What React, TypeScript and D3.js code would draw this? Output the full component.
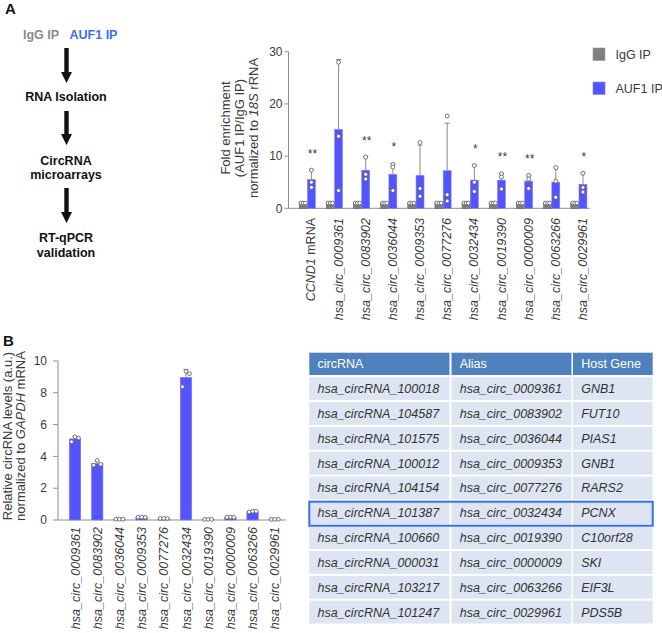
import React from 'react';
import * as d3 from 'd3';

const FONT = "'Liberation Sans', Arial, Helvetica, sans-serif";

// ---------- Panel A data ----------
const catsA = [
  'CCND1 mRNA', 'hsa_circ_0009361', 'hsa_circ_0083902', 'hsa_circ_0036044',
  'hsa_circ_0009353', 'hsa_circ_0077276', 'hsa_circ_0032434', 'hsa_circ_0019390',
  'hsa_circ_0000009', 'hsa_circ_0063266', 'hsa_circ_0029961',
];
const iggMeanA = [1, 1, 1, 1, 1, 1, 1, 1, 1, 1, 1];
const iggPointsA = [1, 1, 1];
const aufMeanA = [5.5, 15.1, 7.3, 6.5, 6.3, 7.2, 5.4, 5.4, 5.2, 5.0, 4.6];
const aufErrA = [1.9, 13.4, 2.6, 2.1, 5.8, 9.1, 2.9, 1.3, 1.1, 2.8, 2.2];
const aufPointsA = [
  [7.3, 5.0, 4.0], [28.0, 13.8, 3.4], [9.8, 6.5, 5.6], [8.4, 7.9, 3.4],
  [12.6, 3.8, 2.3], [17.7, 2.6, 1.4], [8.2, 5.0, 3.2], [6.6, 6.0, 3.7],
  [6.3, 5.6, 3.8], [7.8, 5.2, 2.1], [6.7, 4.0, 3.1],
];
const starsA = ['**', '', '**', '*', '', '', '*', '**', '**', '', '*'];
const ticksA = [0, 10, 20, 30];
const seriesA = ['IgG IP', 'AUF1 IP'];

// ---------- Panel B data ----------
const catsB = [
  'hsa_circ_0009361', 'hsa_circ_0083902', 'hsa_circ_0036044', 'hsa_circ_0009353',
  'hsa_circ_0077276', 'hsa_circ_0032434', 'hsa_circ_0019390', 'hsa_circ_0000009',
  'hsa_circ_0063266', 'hsa_circ_0029961',
];
const meanB = [5.1, 3.55, 0.05, 0.17, 0.1, 8.97, 0.04, 0.17, 0.52, 0.04];
const errB = [0.15, 0.15, 0.02, 0.03, 0.02, 0.5, 0.01, 0.03, 0.05, 0.01];
const pointsB = [
  [4.92, 5.24, 5.15], [3.45, 3.75, 3.5], [0.05, 0.05, 0.05], [0.17, 0.18, 0.17],
  [0.1, 0.1, 0.1], [8.38, 9.35, 9.2], [0.04, 0.04, 0.04], [0.17, 0.18, 0.17],
  [0.5, 0.55, 0.55], [0.04, 0.04, 0.04],
];
const ticksB = [0, 2, 4, 6, 8, 10];

// ---------- Table data ----------
const tableHeader = ['circRNA', 'Alias', 'Host Gene'];
const tableCircRNA = [
  'hsa_circRNA_100018', 'hsa_circRNA_104587', 'hsa_circRNA_101575', 'hsa_circRNA_100012',
  'hsa_circRNA_104154', 'hsa_circRNA_101387', 'hsa_circRNA_100660', 'hsa_circRNA_000031',
  'hsa_circRNA_103217', 'hsa_circRNA_101247',
];
const tableAlias = [
  'hsa_circ_0009361', 'hsa_circ_0083902', 'hsa_circ_0036044', 'hsa_circ_0009353',
  'hsa_circ_0077276', 'hsa_circ_0032434', 'hsa_circ_0019390', 'hsa_circ_0000009',
  'hsa_circ_0063266', 'hsa_circ_0029961',
];
const tableHost = ['GNB1', 'FUT10', 'PIAS1', 'GNB1', 'RARS2', 'PCNX', 'C10orf28', 'SKI', 'EIF3L', 'PDS5B'];
const highlightRow = 5;

// ---------- Flowchart ----------
const flowSteps = [['RNA Isolation'], ['CircRNA', 'microarrays'], ['RT-qPCR', 'validation']];

const BLUE = '#5454fb';
const BLUE_EDGE = '#8080ff';
const GRAY = '#7f7f7f';
const AXIS = '#8f8f8f';
const TXT = '#3a3a3a';

function Arrow({ x, y0, y1 }: { x: number; y0: number; y1: number }) {
  const hw = 5.5, hh = 11, sw = 2.2;
  const d = `M${x - sw},${y0} L${x + sw},${y0} L${x + sw},${y1 - hh} L${x + hw},${y1 - hh} L${x},${y1} L${x - hw},${y1 - hh} L${x - sw},${y1 - hh} Z`;
  return <path d={d} fill="#111" />;
}

function PanelA() {
  const y = d3.scaleLinear().domain([0, 30]).range([208.3, 51.7]);
  const x = d3.scalePoint<string>().domain(catsA).range([293.9, 592.6]).padding(0.5);
  const inner = d3.scaleBand<string>().domain(seriesA).range([-8.3, 7.9]).paddingInner(0.04);
  const axX = 288.5;
  const iggOff = [-2.2, 0, 2.2];
  return (
    <g>
      {/* y axis */}
      <line x1={axX} x2={axX} y1={y(30)} y2={y(0)} stroke={AXIS} strokeWidth={1} />
      {ticksA.map((t) => (
        <g key={t}>
          <line x1={axX - 4} x2={axX} y1={y(t)} y2={y(t)} stroke={AXIS} />
          <text x={axX - 6} y={y(t)} dy="0.35em" textAnchor="end" fontSize={12} fill={TXT}>{t}</text>
        </g>
      ))}
      <line x1={axX} x2={590} y1={y(0)} y2={y(0)} stroke={AXIS} />
      {/* y label */}
      {[
        <tspan key="a">Fold enrichment</tspan>,
        <tspan key="b">(AUF1 IP/IgG IP)</tspan>,
        <tspan key="c">normalized to <tspan fontStyle="italic">18S</tspan> rRNA</tspan>,
      ].map((t, i) => (
        <text key={i} transform={`translate(${229.5 + i * 14},128) rotate(-90)`} textAnchor="middle" fontSize={13} fill={TXT}>{t}</text>
      ))}
      {catsA.map((c, i) => {
        const cx = x(c)!;
        const xi = cx + inner('IgG IP')!;
        const xa = cx + inner('AUF1 IP')!;
        const bw = inner.bandwidth();
        const top = aufMeanA[i] + aufErrA[i];
        const capX = xa + bw / 2;
        return (
          <g key={c}>
            <rect x={xi} y={y(iggMeanA[i])} width={bw} height={y(0) - y(iggMeanA[i])} fill={GRAY} stroke="#5e5e5e" strokeWidth={0.6} />
            {iggPointsA.map((p, j) => (
              <circle key={j} cx={xi + bw / 2 + iggOff[j]} cy={y(p)} r={1.9} fill="#fff" stroke="#555" strokeWidth={0.8} />
            ))}
            <line x1={capX} x2={capX} y1={y(aufMeanA[i])} y2={y(top)} stroke="#8a8a8a" strokeWidth={1} />
            <line x1={capX - 2.5} x2={capX + 2.5} y1={y(top)} y2={y(top)} stroke="#8a8a8a" strokeWidth={1} />
            <rect x={xa} y={y(aufMeanA[i])} width={bw} height={y(0) - y(aufMeanA[i])} fill={BLUE} stroke={BLUE_EDGE} strokeWidth={0.6} />
            {aufPointsA[i].map((p, j) => (
              <circle key={j} cx={capX} cy={y(p)} r={2} fill="#fff" stroke="#555" strokeWidth={0.8} />
            ))}
            {starsA[i] && (
              <text x={capX + 1} y={y(Math.max(top, ...aufPointsA[i])) - 12} textAnchor="middle" fontSize={12} fill={TXT}>{starsA[i]}</text>
            )}
            <text transform={`translate(${cx + 8},218) rotate(-90)`} textAnchor="end" fontSize={12.5} fill={TXT}>
              {i === 0 ? (<><tspan fontStyle="italic">CCND1</tspan> mRNA</>) : (<tspan fontStyle="italic">{c}</tspan>)}
            </text>
          </g>
        );
      })}
      {/* legend */}
      {seriesA.map((s, i) => (
        <g key={s}>
          <rect x={593} y={48 + i * 34} width={12} height={12.5} fill={i === 0 ? GRAY : BLUE} stroke={i === 0 ? '#999' : BLUE_EDGE} strokeWidth={0.6} />
          <text x={615.5} y={58.5 + i * 34} fontSize={12.5} fill={TXT}>{s}</text>
        </g>
      ))}
    </g>
  );
}

function PanelB() {
  const y = d3.scaleLinear().domain([0, 10]).range([520, 361]);
  const x = d3.scalePoint<string>().domain(catsB).range([63.9, 285.9]).padding(0.5);
  const axX = 58;
  const bw = 11.5;
  const off = [-3.5, 0, 3.5];
  return (
    <g>
      <line x1={axX} x2={axX} y1={y(10)} y2={y(0)} stroke={AXIS} />
      {ticksB.map((t) => (
        <g key={t}>
          <line x1={axX - 5} x2={axX} y1={y(t)} y2={y(t)} stroke={AXIS} />
          <text x={axX - 11} y={y(t)} dy="0.35em" textAnchor="end" fontSize={12} fill={TXT}>{t}</text>
        </g>
      ))}
      <line x1={axX} x2={286} y1={y(0)} y2={y(0)} stroke={AXIS} />
      <text transform="translate(11.8,436) rotate(-90)" textAnchor="middle" fontSize={13} fill={TXT}>Relative circRNA levels (a.u.)</text>
      <text transform="translate(25.2,436) rotate(-90)" textAnchor="middle" fontSize={13} fill={TXT}>
        normalized to <tspan fontStyle="italic">GAPDH</tspan> mRNA
      </text>
      {catsB.map((c, i) => {
        const cx = x(c)!;
        const top = meanB[i] + errB[i];
        return (
          <g key={c}>
            <line x1={cx} x2={cx} y1={y(meanB[i])} y2={y(top)} stroke="#8a8a8a" />
            <line x1={cx - 2.5} x2={cx + 2.5} y1={y(top)} y2={y(top)} stroke="#8a8a8a" />
            <rect x={cx - bw / 2} y={y(meanB[i])} width={bw} height={y(0) - y(meanB[i])} fill={BLUE} stroke={BLUE_EDGE} strokeWidth={0.6} />
            {pointsB[i].map((p, j) => (
              <circle key={j} cx={cx + off[j]} cy={y(p)} r={1.9} fill="#fff" stroke="#555" strokeWidth={0.8} />
            ))}
            <text transform={`translate(${cx + 4.5},527) rotate(-90)`} textAnchor="end" fontSize={12.5} fontStyle="italic" fill={TXT}>{c}</text>
          </g>
        );
      })}
    </g>
  );
}

function Table() {
  const colL = [309.3, 451.5, 573];
  const colR = [449.5, 571.5, 652.7];
  const headTop = 352.7, headH = 22.3;
  const rowTop = (i: number) => 377.3 + i * 24.82;
  const rowH = 22.8;
  const cols = [tableCircRNA, tableAlias, tableHost];
  return (
    <g>
      {tableHeader.map((h, j) => (
        <g key={h}>
          <rect x={colL[j]} y={headTop} width={colR[j] - colL[j]} height={headH} fill="#4f81bd" />
          <text x={colL[j] + 8.2} y={headTop + headH / 2} dy="0.36em" fontSize={12.5} fill="#fff">{h}</text>
        </g>
      ))}
      {tableAlias.map((_, i) => (
        <g key={i}>
          {cols.map((col, j) => (
            <g key={j}>
              <rect x={colL[j]} y={rowTop(i)} width={colR[j] - colL[j]} height={rowH} fill="#dce5f1" />
              <text x={colL[j] + 8.2} y={rowTop(i) + rowH / 2} dy="0.36em" fontSize={12.5} fontStyle="italic" fill="#333">{col[i]}</text>
            </g>
          ))}
        </g>
      ))}
      <rect x={309.3} y={rowTop(highlightRow) + 0.3} width={343.4} height={rowH + 1.2} fill="none" stroke="#3b6cf5" strokeWidth={2} />
    </g>
  );
}

function Flow() {
  return (
    <g fontWeight="bold" fontSize={12.5} textAnchor="middle">
      <text x={5} y={14} fontSize={15} textAnchor="start" fill="#111">A</text>
      <text x={41} y={39} fill="#8a8a8a">IgG IP</text>
      <text x={93.5} y={39} fill="#3d6cff">AUF1 IP</text>
      <Arrow x={66.5} y0={48} y1={83} />
      <text x={66} y={101} fill="#111">{flowSteps[0][0]}</text>
      <Arrow x={66.5} y0={111} y1={145} />
      <text x={66} y={165} fill="#111">{flowSteps[1][0]}</text>
      <text x={66} y={179} fill="#111">{flowSteps[1][1]}</text>
      <Arrow x={66.5} y0={188} y1={223} />
      <text x={66} y={242} fill="#111">{flowSteps[2][0]}</text>
      <text x={66} y={256.5} fill="#111">{flowSteps[2][1]}</text>
      <text x={3} y={346} fontSize={15} textAnchor="start" fill="#111">B</text>
    </g>
  );
}

export default function App() {
  return (
    <svg width={662} height={633} style={{ position: 'absolute', left: 0, top: 0, background: '#fff' }} fontFamily={FONT}>
      <rect width={662} height={633} fill="#fff" />
      <Flow />
      <PanelA />
      <PanelB />
      <Table />
    </svg>
  );
}
